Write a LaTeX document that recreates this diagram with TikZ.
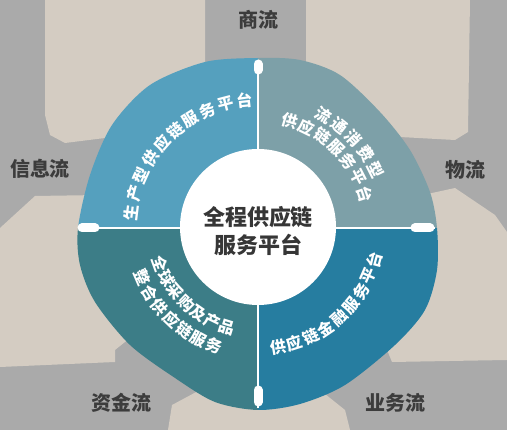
\documentclass[tikz,border=0pt]{standalone}
\usepackage{fontspec}
\newfontfamily\cjk{Noto Sans CJK SC}
\usepackage{tikz}
\definecolor{bggray}{RGB}{170,170,170}
\definecolor{beige}{RGB}{212,204,194}
\definecolor{qtl}{RGB}{85,160,190}
\definecolor{qtr}{RGB}{125,160,168}
\definecolor{qbl}{RGB}{60,125,135}
\definecolor{qbr}{RGB}{38,125,160}
\definecolor{labelgray}{RGB}{60,60,60}

\begin{document}
\begin{tikzpicture}[x=1pt,y=1pt,
		flow/.style={font={\cjk\bfseries\fontsize{20}{20}\selectfont}, text=labelgray, inner sep=0pt},
		ringtxt/.style={font={\cjk\bfseries\fontsize{16}{16}\selectfont}, text=white, inner sep=0pt},
		knob/.style={white, line width=9pt, line cap=round}]
		\useasboundingbox (0,0) rectangle (507,430);
		\fill[bggray] (0,0) rectangle (507,430);

		% sfondo beige
		\fill[beige] (45,430) -- (205,430) -- (205,280) -- (110,280) -- (105,292) -- (65,287) -- (50,295) -- (45,315) -- cycle; % alto sinistra
		\fill[beige] (306,430) -- (470,430) -- (468,298) -- (455,290) -- (400,293) -- (380,280) -- (306,330) -- cycle; % alto destra
		\fill[beige] (0,202) -- (35,234) -- (100,235) -- (140,100) -- (115,80) -- (115,68) -- (0,63) -- cycle; % basso sinistra
		\fill[beige] (168,0) -- (172,25) -- (200,40) -- (320,40) -- (345,20) -- (350,0) -- cycle; % basso centro
		\fill[beige] (400,230) -- (455,242) -- (495,215) -- (507,198) -- (507,70) -- (392,68) -- (385,85) -- (360,100) -- cycle; % basso destra

		% anello a quattro settori
		\begin{scope}
			\clip plot[smooth cycle] coordinates {(258,372) (205,368) (150,345) (112,305) (90,255) (78,202) (80,165) (95,128) (130,85) (175,52) (215,28) (258,20) (300,26) (345,45) (395,85) (425,120) (437,160) (437,202) (430,238) (410,280) (380,318) (340,355) (300,370)};
			\fill[qtl] (258,202) rectangle (0,430);
			\fill[qtr] (258,202) rectangle (507,430);
			\fill[qbl] (258,202) rectangle (0,0);
			\fill[qbr] (258,202) rectangle (507,0);
		\end{scope}

		% divisori bianchi
		\draw[white, line width=2.5pt] (258,368) -- (258,22);
		\draw[white, line width=2.5pt] (79,202) -- (435,202);
		\draw[knob] (258,360) -- (258,366);
		\draw[knob] (258,28) -- (258,40);
		\draw[knob] (82,202) -- (95,202);
		\draw[knob] (415,202) -- (430,202);

		% cerchio centrale
		\fill[white] (258,203) circle (78);
		\node[font={\cjk\bfseries\fontsize{22}{28}\selectfont}, text=labelgray!90!black, align=center, inner sep=0pt] (core) at (258,199) {全程供应链\\服务平台};

		% flussi
		\node[flow] (shang) at (258,410) {商流};
		\node[flow] (xinxi) at (40,261) {信息流};
		\node[flow] (wu) at (465,260) {物流};
		\node[flow] (zijin) at (122,27) {资金流};
		\node[flow] (yewu) at (395,27) {业务流};

		% testi curvi
		\begin{scope}[shift={(258,202)}]
			\foreach \ch [count=\i from 0] in {生,产,型,供,应,链,服,务,平,台}
				\node[ringtxt, rotate=83-\i*8.55] (tl-\i) at (173-\i*8.55:128) {\ch}; % alto sinistra
			\foreach \ch [count=\i from 0] in {流,通,消,费,型}
				\node[ringtxt, rotate=-30.2-\i*8.35] (tro-\i) at (59.8-\i*8.35:131) {\ch};
			\foreach \ch [count=\i from 0] in {供,应,链,服,务,平,台}
				\node[ringtxt, rotate=-16.5-\i*9.28] (tri-\i) at (73.5-\i*9.28:112) {\ch}; % alto destra
			\foreach \ch [count=\i from 0] in {全,球,采,购,及,产,品}
				\node[ringtxt, rotate=290+\i*8.8] (bli-\i) at (200+\i*8.8:104) {\ch};
			\foreach \ch [count=\i from 0] in {整,合,供,应,链,服,务}
				\node[ringtxt, rotate=293.3+\i*7.7] (blo-\i) at (203.3+\i*7.7:126) {\ch}; % basso sinistra
			\foreach \ch [count=\i from 0] in {供,应,链,金,融,服,务,平,台}
				\node[ringtxt, rotate=369.5+\i*8.15] (br-\i) at (279.5+\i*8.15:121) {\ch}; % basso destra
		\end{scope}
\end{tikzpicture}
\end{document}
